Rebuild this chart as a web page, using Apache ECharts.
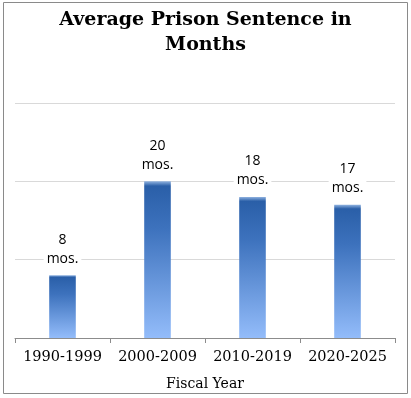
<!DOCTYPE html>
<html><head><meta charset="utf-8">
<script src="https://cdn.jsdelivr.net/npm/echarts@6/dist/echarts.min.js"></script>
<style>html,body{margin:0;padding:0;background:#fff}#c{width:411px;height:398px}</style>
</head><body><div id="c"></div>
<script>
const categories = ['1990-1999', '2000-2009', '2010-2019', '2020-2025'];
const sentenceMonths = [8, 20, 18, 17];
const labelSuffix = 'mos.';
const titleText = 'Average Prison Sentence in\nMonths';
const xAxisName = 'Fiscal Year';

const chart = echarts.init(document.getElementById('c'));
chart.setOption({
  animation: false,
  backgroundColor: '#fff',
  graphic: [{
    type: 'rect', shape: {x: 3.5, y: 2.5, width: 404, height: 391},
    style: {fill: 'none', stroke: '#8a8a8a', lineWidth: 1}, z: -1
  }],
  title: {
    text: titleText, left: 'center', top: 3,
    textStyle: {fontFamily: 'DejaVu Serif', fontWeight: 'bold', fontSize: 19, lineHeight: 25, color: '#000'}
  },
  grid: {left: 15, right: 16, top: 103, bottom: 60},
  xAxis: {
    type: 'category', data: categories,
    name: xAxisName, nameLocation: 'middle', nameGap: 39,
    nameTextStyle: {fontFamily: 'DejaVu Serif', fontSize: 14, color: '#000'},
    axisLine: {lineStyle: {color: '#8c8c8c'}},
    axisTick: {show: true, length: 5, lineStyle: {color: '#8c8c8c'}},
    axisLabel: {interval: 0, fontFamily: 'DejaVu Serif', fontSize: 14.5, color: '#000', margin: 12}
  },
  yAxis: {
    type: 'value', min: 0, max: 30, interval: 10,
    axisLine: {show: false}, axisTick: {show: false}, axisLabel: {show: false},
    splitLine: {lineStyle: {color: '#d9d9d9'}}
  },
  series: [{
    type: 'bar', data: sentenceMonths, barWidth: '28%',
    itemStyle: {color: new echarts.graphic.LinearGradient(0, 0, 0, 1, [
      {offset: 0, color: '#8fb2e0'}, {offset: 0.03, color: '#2a5fa8'},
      {offset: 0.3, color: '#3d72bd'}, {offset: 1, color: '#93bcfa'}
    ])},
    label: {
      show: true, position: 'top', distance: 7,
      formatter: p => p.value + '\n' + labelSuffix,
      fontFamily: 'Open Sans', fontSize: 14, lineHeight: 19, color: '#000',
      backgroundColor: '#fff', padding: [0, 3]
    }
  }]
});
</script></body></html>
